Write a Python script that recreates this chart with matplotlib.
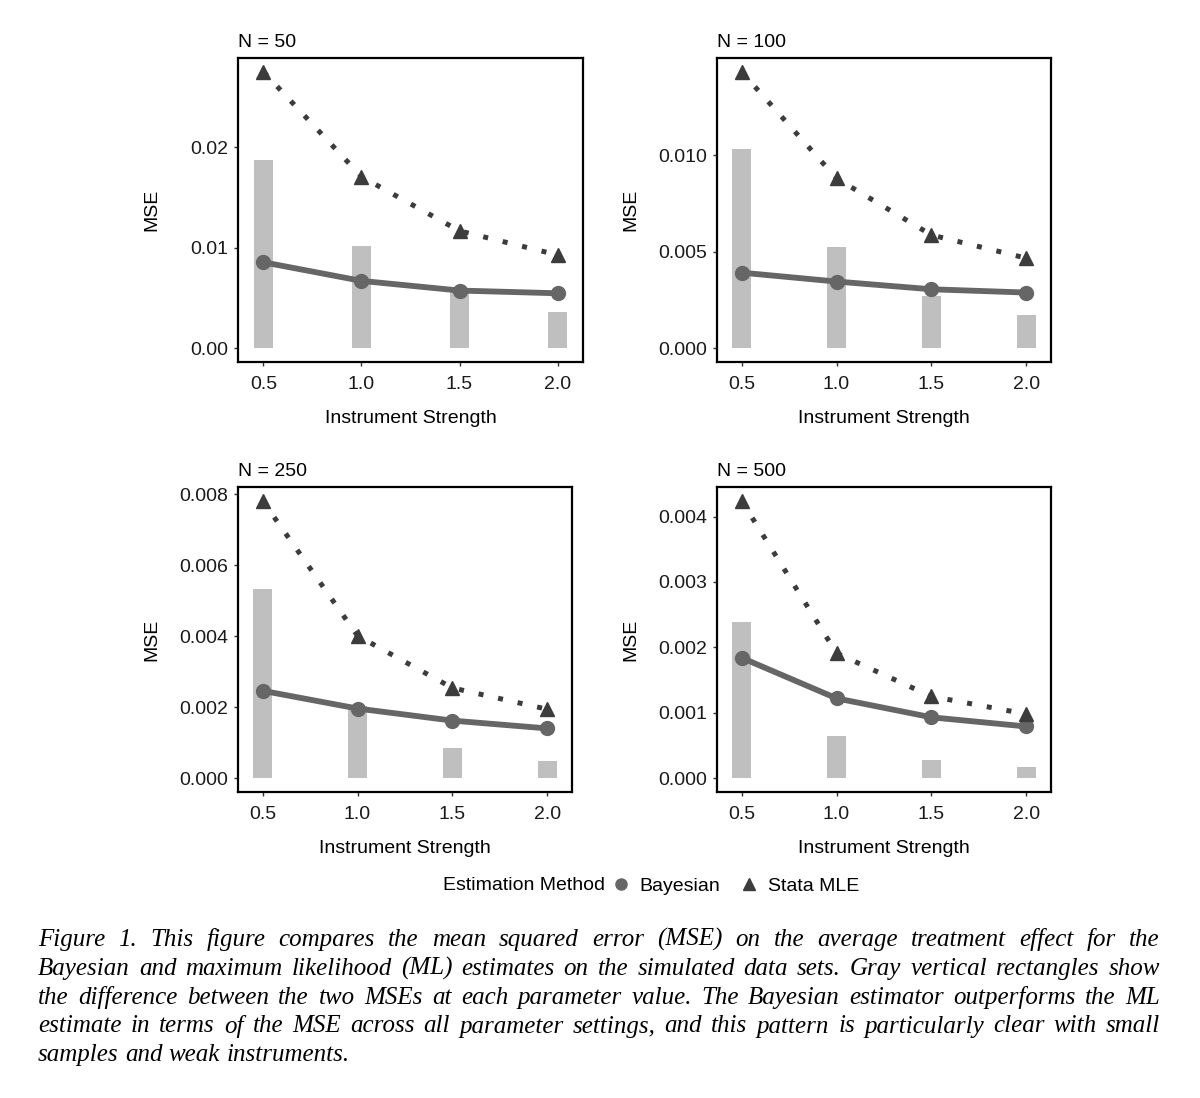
import matplotlib
matplotlib.use("Agg")
import matplotlib.pyplot as plt
from matplotlib.lines import Line2D
from matplotlib.transforms import blended_transform_factory

plt.rcParams['font.family'] = ['Liberation Sans', 'DejaVu Sans']

# data
strength = [0.5, 1.0, 1.5, 2.0]
sizes = [50, 100, 250, 500]

bayes_50 = [0.00854, 0.00669, 0.00573, 0.00546]
mle_50 = [0.02748, 0.01705, 0.01166, 0.00927]
diff_50 = [0.0187, 0.0102, 0.0059, 0.00358]

bayes_100 = [0.00391, 0.00345, 0.00305, 0.00288]
mle_100 = [0.01431, 0.00879, 0.00586, 0.00466]
diff_100 = [0.01031, 0.00524, 0.00271, 0.00172]

bayes_250 = [0.00246, 0.00196, 0.00162, 0.00140]
mle_250 = [0.00781, 0.00401, 0.00254, 0.00194]
diff_250 = [0.00532, 0.00202, 0.00085, 0.00049]

bayes_500 = [0.00184, 0.00122, 0.00093, 0.00079]
mle_500 = [0.00424, 0.00191, 0.00125, 0.00098]
diff_500 = [0.00239, 0.00065, 0.00028, 0.00017]

yticks_50 = [0.0, 0.01, 0.02]
yticks_100 = [0.0, 0.005, 0.010]
yticks_250 = [0.0, 0.002, 0.004, 0.006, 0.008]
yticks_500 = [0.0, 0.001, 0.002, 0.003, 0.004]
ylabels_50 = ["0.00", "0.01", "0.02"]
ylabels_100 = ["0.000", "0.005", "0.010"]
ylabels_250 = ["0.000", "0.002", "0.004", "0.006", "0.008"]
ylabels_500 = ["0.000", "0.001", "0.002", "0.003", "0.004"]

caption = [
    "Figure 1. This figure compares the mean squared error (MSE) on the average treatment effect for the",
    "Bayesian and maximum likelihood (ML) estimates on the simulated data sets. Gray vertical rectangles show",
    "the difference between the two MSEs at each parameter value. The Bayesian estimator outperforms the ML",
    "estimate in terms of the MSE across all parameter settings, and this pattern is particularly clear with small",
    "samples and weak instruments.",
]

bar_col = '#bfbfbf'
bayes_col = '#666666'
mle_col = '#3c3c3c'
W, H = 1200, 1098
fs = 14

fig = plt.figure(figsize=(W / 100, H / 100), dpi=100)

# panel boxes in pixels: left, top, right, bottom
boxes = [(238, 58, 583, 362), (717, 58, 1051, 362),
         (238, 487, 572, 792), (717, 487, 1051, 792)]
ylab_x = [160, 639, 160, 639]

panels = [
    (bayes_50, mle_50, diff_50, yticks_50, ylabels_50),
    (bayes_100, mle_100, diff_100, yticks_100, ylabels_100),
    (bayes_250, mle_250, diff_250, yticks_250, ylabels_250),
    (bayes_500, mle_500, diff_500, yticks_500, ylabels_500),
]

for i, (bayes, mle, diff, yt, yl) in enumerate(panels):
    l, t, r, b = boxes[i]
    ax = fig.add_axes([l / W, 1 - b / H, (r - l) / W, (b - t) / H])
    ax.use_sticky_edges = False
    ax.bar(strength, diff, width=0.1, color=bar_col, zorder=1)
    ax.plot(strength, bayes, color=bayes_col, lw=4.2, marker='o', ms=10,
            zorder=3, solid_capstyle='butt')
    ax.plot(strength, mle, color=mle_col, lw=3.6, ls=(0, (1, 3)),
            dash_capstyle='butt', zorder=2)
    ax.plot(strength, mle, color=mle_col, ls='none', marker='^', ms=10, zorder=4)
    ax.margins(x=0.05, y=0.05)
    ax.set_xticks(strength)
    ax.set_xticklabels(["0.5", "1.0", "1.5", "2.0"])
    ax.set_yticks(yt)
    ax.set_yticklabels(yl)
    ax.tick_params(labelsize=fs, length=3, width=1, color='#333333',
                   labelcolor='#1a1a1a', pad=4)
    ax.tick_params(axis='x', pad=7)
    for s in ax.spines.values():
        s.set_linewidth(1.6)
    ax.set_title(f"N = {sizes[i]}", loc='left', fontsize=fs, pad=8)
    ax.set_xlabel("Instrument Strength", fontsize=fs, labelpad=12)
    ax.set_ylabel("MSE", fontsize=fs)
    tr = blended_transform_factory(fig.transFigure, ax.transAxes)
    ax.yaxis.set_label_coords(ylab_x[i] / W, 0.5, transform=tr)

# legend
fig.text(443 / W, 1 - 886 / H, "Estimation Method", fontsize=fs, va='center')
handles = [Line2D([], [], ls='none', marker='o', color=bayes_col, ms=8),
           Line2D([], [], ls='none', marker='^', color=mle_col, ms=8)]
fig.legend(handles, ["Bayesian", "Stata MLE"], ncol=2, loc='center left',
           bbox_to_anchor=(613 / W, 1 - 886 / H), frameon=False, fontsize=fs,
           handlelength=0.8, handletextpad=0.55, columnspacing=1.1,
           borderpad=0, borderaxespad=0)

# caption, justified word by word
renderer = fig.canvas.get_renderer()
x0, x1 = 38, 1160
base_y = [946, 975, 1004, 1032.5, 1061]
cap_kw = dict(family='Liberation Serif', style='italic', fontsize=18, va='baseline')
for k, line in enumerate(caption):
    words = line.split(" ")
    texts = [fig.text(0, 1 - base_y[k] / H, w, **cap_kw) for w in words]
    widths = [tx.get_window_extent(renderer).width for tx in texts]
    if k < len(caption) - 1:
        gap = (x1 - x0 - sum(widths)) / (len(words) - 1)
    else:
        sp = fig.text(0, 0, "a a", **cap_kw)
        sp2 = fig.text(0, 0, "aa", **cap_kw)
        gap = sp.get_window_extent(renderer).width - sp2.get_window_extent(renderer).width
        sp.remove()
        sp2.remove()
    x = x0
    for tx, w in zip(texts, widths):
        tx.set_x(x / W)
        x += w + gap

fig.savefig("out.png", dpi=100)
